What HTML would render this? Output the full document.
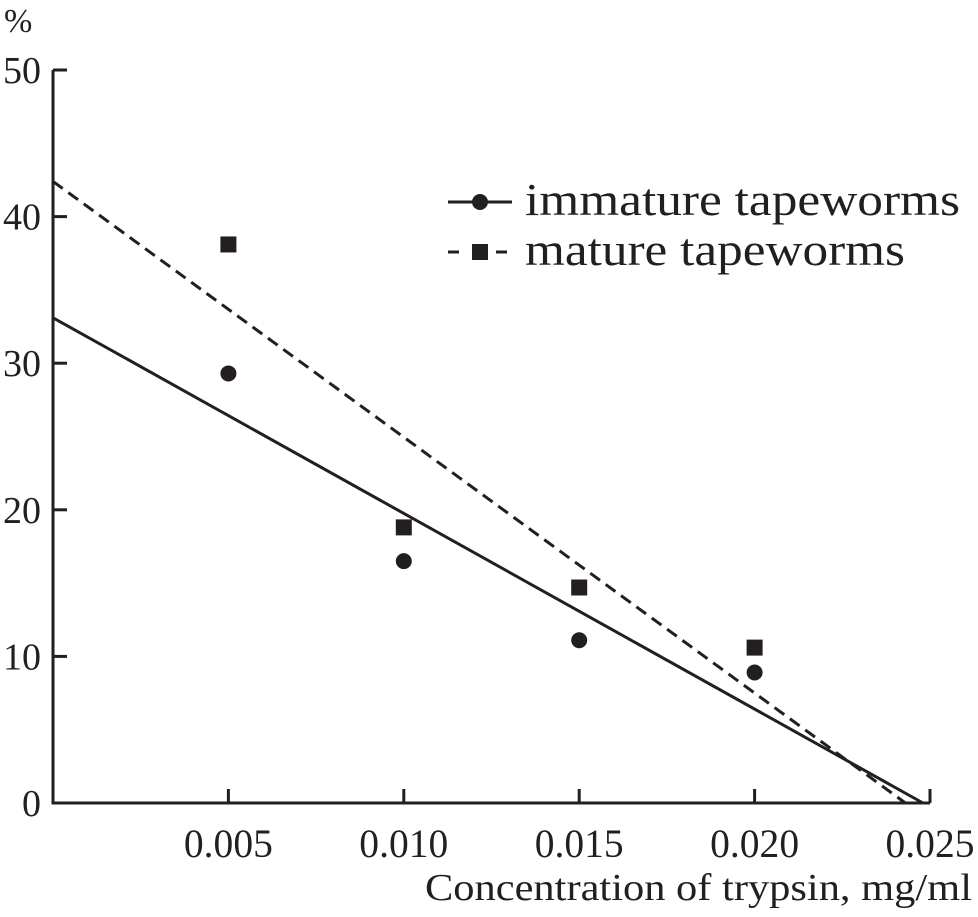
<!DOCTYPE html>
<html><head><meta charset="utf-8"><style>
html,body{margin:0;padding:0;background:#fff;}
svg{display:block;font-family:"Liberation Serif",serif;}
</style></head><body>
<svg id="chart" width="978" height="917" viewBox="0 0 978 917" xmlns="http://www.w3.org/2000/svg"></svg>
<script>
const xTicks=[0.005,0.010,0.015,0.020,0.025];
const xTickLabels=["0.005","0.010","0.015","0.020","0.025"];
const yTicks=[0,10,20,30,40,50];
const yTickLabels=["0","10","20","30","40","50"];
const concentrations=[0.005,0.010,0.015,0.020];
const immatureValues=[29.3,16.5,11.1,8.9];
const matureValues=[38.1,18.8,14.7,10.6];
const immatureFit=[[0,33.1],[0.0248,0]];
const matureFit=[[0,42.4],[0.0243,0]];

const X0=53,X1=930,Y0=803,Y1=70;
const sx=v=>X0+(v/0.025)*(X1-X0);
const sy=v=>Y0-(v/50)*(Y0-Y1);
const svg=document.getElementById('chart');
const NS='http://www.w3.org/2000/svg';
function mk(tag,attrs,parent){const e=document.createElementNS(NS,tag);for(const k in attrs)e.setAttribute(k,attrs[k]);(parent||svg).appendChild(e);return e;}

const axes=mk('path',{d:`M${X0},${Y1} L${X0},${Y0} L${X1},${Y0}`,fill:'none',stroke:'#231f20','stroke-width':3});



xTicks.forEach((v,i)=>{
  const t=mk('line',{x1:sx(v),x2:sx(v),y1:Y0,y2:Y0-14,stroke:'#231f20','stroke-width':3});
  
  
  const l=mk('text',{x:sx(v),y:Y0+54,'text-anchor':'middle','font-size':40,fill:'#231f20',textLength:89,lengthAdjust:'spacingAndGlyphs'});
  l.textContent=xTickLabels[i];
  
  
});
yTicks.forEach((v,i)=>{
  if(v>0){const t=mk('line',{x1:X0,x2:X0+14,y1:sy(v),y2:sy(v),stroke:'#231f20','stroke-width':3});
  
  }
  const l=mk('text',{x:X0-12,y:sy(v)+13,'text-anchor':'end','font-size':38,fill:'#231f20'});
  l.textContent=yTickLabels[i];
  
  
});
const yt=mk('text',{x:4,y:32,'font-size':34,fill:'#231f20'});yt.textContent='%';


const xt=mk('text',{x:425,y:900,'font-size':38,fill:'#231f20',textLength:547,lengthAdjust:'spacingAndGlyphs'});xt.textContent='Concentration of trypsin, mg/ml';



const l1=mk('line',{x1:sx(immatureFit[0][0]),y1:sy(immatureFit[0][1]),x2:sx(immatureFit[1][0]),y2:sy(immatureFit[1][1]),stroke:'#231f20','stroke-width':3});


const l2=mk('line',{x1:sx(matureFit[0][0]),y1:sy(matureFit[0][1]),x2:sx(matureFit[1][0]),y2:sy(matureFit[1][1]),stroke:'#231f20','stroke-width':3,'stroke-dasharray':'12 7'});



concentrations.forEach((c,i)=>{
  const p=mk('circle',{cx:sx(c),cy:sy(immatureValues[i]),r:8,fill:'#231f20'});
  
  
  const q=mk('rect',{x:sx(c)-8,y:sy(matureValues[i])-8,width:16,height:16,fill:'#231f20'});
  
  
});

const lg=mk('g',{});


mk('line',{x1:448,x2:512,y1:202,y2:202,stroke:'#231f20','stroke-width':3},lg);
mk('circle',{cx:480,cy:202,r:8,fill:'#231f20'},lg);
const t1=mk('text',{x:525,y:215,'font-size':46,fill:'#231f20',textLength:435,lengthAdjust:'spacingAndGlyphs'},lg);t1.textContent='immature tapeworms';


mk('line',{x1:448,x2:512,y1:252,y2:252,stroke:'#231f20','stroke-width':3,'stroke-dasharray':'11 13'},lg);
mk('rect',{x:472,y:244,width:16,height:16,fill:'#231f20'},lg);
const t2=mk('text',{x:525,y:265,'font-size':46,fill:'#231f20',textLength:380,lengthAdjust:'spacingAndGlyphs'},lg);t2.textContent='mature tapeworms';


</script>
</body></html>
